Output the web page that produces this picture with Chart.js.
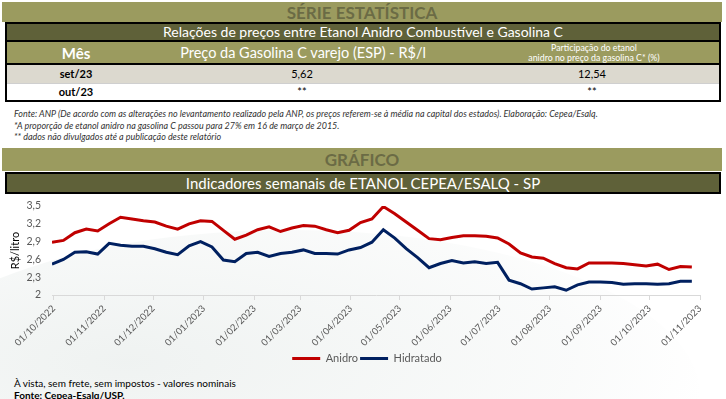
<!DOCTYPE html>
<html>
<head>
<meta charset="utf-8">
<script src="https://cdn.jsdelivr.net/npm/chart.js@4.4.0/dist/chart.umd.min.js"></script>
<style>
  html, body { margin: 0; padding: 0; background: #fff; }
  body { width: 726px; height: 399px; position: relative; overflow: hidden; font-family: Lato, "Liberation Sans", Arial, sans-serif; }
  .abs { position: absolute; }
  .band { background: #9b9b5f; color: #6b6b45; font-weight: bold; font-size: 17px; text-align: center; }
  .darkbar { background: #5f6139; color: #fff; text-align: center; box-sizing: border-box; }
  .c { position: absolute; text-align: center; white-space: nowrap; }
  .note { position: absolute; left: 14px; font-style: italic; font-size: 8.95px; color: #333; white-space: nowrap; }
  #chartWrap { position: absolute; left: 0; top: 194px; width: 726px; height: 180px; }
  #bgDeco { position: absolute; left: -120px; top: 230px; width: 820px; height: 330px; border-radius: 50%;
            background: radial-gradient(ellipse at 30% 40%, rgba(226,232,230,0.55), rgba(240,243,242,0.35) 55%, rgba(255,255,255,0) 72%); }
</style>
</head>
<body>
<div id="bgDeco"></div>

<div class="abs band" style="left:2px;top:2px;width:720px;height:20px;line-height:21px;">SÉRIE ESTATÍSTICA</div>

<div class="abs" style="left:5px;top:22px;width:716px;height:80px;border:2px solid #000;box-sizing:border-box;">
  <div class="abs darkbar" style="left:0;top:0;width:712px;height:16px;line-height:16px;font-size:14px;">Relações de preços entre Etanol Anidro Combustível e Gasolina C</div>
  <div class="abs" style="left:0;top:16px;width:712px;height:2px;background:#000;"></div>
  <div class="abs" style="left:0;top:18px;width:712px;height:21px;background:#9b9b5f;"></div>
  <div class="c" style="left:39px;width:60px;top:19px;line-height:20px;font-size:15px;font-weight:bold;color:#fff;">Mês</div>
  <div class="c" style="left:146px;width:300px;top:19px;line-height:20px;font-size:14.5px;color:#fff;">Preço da Gasolina C varejo (ESP) - R$/l</div>
  <div class="c" style="left:487px;width:200px;top:19px;line-height:10px;font-size:8.8px;color:#fff;">Participação do etanol<br>anidro no preço da gasolina C* (%)</div>
  <div class="abs" style="left:0;top:39px;width:712px;height:2px;background:#000;"></div>
  <div class="abs" style="left:0;top:41px;width:712px;height:18px;background:#dcd9cf;"></div>
  <div class="abs" style="left:0;top:59px;width:712px;height:1px;background:#cfcfcf;"></div>
  <div class="c" style="left:39px;width:60px;top:41px;line-height:18px;font-size:11px;font-weight:bold;color:#000;">set/23</div>
  <div class="c" style="left:245px;width:100px;top:41px;line-height:18px;font-size:11px;color:#000;">5,62</div>
  <div class="c" style="left:535px;width:100px;top:41px;line-height:18px;font-size:11px;color:#000;">12,54</div>
  <div class="c" style="left:39px;width:60px;top:60px;line-height:16px;font-size:11px;font-weight:bold;color:#000;">out/23</div>
  <div class="c" style="left:245px;width:100px;top:60px;line-height:16px;font-size:11px;color:#000;">**</div>
  <div class="c" style="left:535px;width:100px;top:60px;line-height:16px;font-size:11px;color:#000;">**</div>
</div>

<div class="note" style="top:108px;">Fonte: ANP (De acordo com as alterações no levantamento realizado pela ANP, os preços referem-se à média na capital dos estados). Elaboração: Cepea/Esalq.</div>
<div class="note" style="top:120px;">*A proporção de etanol anidro na gasolina C passou para 27% em 16 de março de 2015.</div>
<div class="note" style="top:131px;">** dados não divulgados até a publicação deste relatório</div>

<div class="abs band" style="left:2px;top:148px;width:720px;height:23px;line-height:23px;">GRÁFICO</div>
<div class="abs darkbar" style="left:5px;top:172px;width:716px;height:22px;line-height:18px;font-size:15px;border:2px solid #000;">Indicadores semanais de ETANOL CEPEA/ESALQ - SP</div>

<div id="chartWrap"><canvas id="chart" width="726" height="180"></canvas></div>

<div class="abs" style="left:14px;top:377px;font-size:10px;color:#000;white-space:nowrap;">À vista, sem frete, sem impostos - valores nominais</div>
<div class="abs" style="left:14px;top:389px;font-size:10px;font-weight:bold;color:#000;white-space:nowrap;">Fonte: Cepea-Esalq/USP.</div>

<script>
// ---- data ----
const weekDates = [
  '30/09/2022','07/10/2022','14/10/2022','21/10/2022','28/10/2022',
  '04/11/2022','11/11/2022','18/11/2022','25/11/2022',
  '02/12/2022','09/12/2022','16/12/2022','23/12/2022','30/12/2022',
  '06/01/2023','13/01/2023','20/01/2023','27/01/2023',
  '03/02/2023','10/02/2023','17/02/2023','24/02/2023',
  '03/03/2023','10/03/2023','17/03/2023','24/03/2023','31/03/2023',
  '07/04/2023','14/04/2023','21/04/2023','28/04/2023',
  '05/05/2023','12/05/2023','19/05/2023','26/05/2023',
  '02/06/2023','09/06/2023','16/06/2023','23/06/2023','30/06/2023',
  '07/07/2023','14/07/2023','21/07/2023','28/07/2023',
  '04/08/2023','11/08/2023','18/08/2023','25/08/2023',
  '01/09/2023','08/09/2023','15/09/2023','22/09/2023','29/09/2023',
  '06/10/2023','13/10/2023','20/10/2023','27/10/2023'
];
const anidro = [
  2.89, 2.92, 3.05, 3.11, 3.08,
  3.20, 3.31, 3.28, 3.25,
  3.23, 3.16, 3.11, 3.20, 3.25,
  3.24, 3.09, 2.94, 3.01,
  3.10, 3.15, 3.07, 3.13,
  3.17, 3.16, 3.10, 3.05, 3.09,
  3.22, 3.28, 3.49, 3.37,
  3.23, 3.09, 2.95, 2.93,
  2.97, 3.00, 3.00, 2.99, 2.96,
  2.86, 2.71, 2.64, 2.62,
  2.53, 2.46, 2.44, 2.54,
  2.54, 2.54, 2.53, 2.51, 2.49,
  2.52, 2.43, 2.48, 2.47
];
const hidratado = [
  2.52, 2.60, 2.72, 2.73, 2.69,
  2.87, 2.84, 2.82, 2.82,
  2.78, 2.72, 2.68, 2.83, 2.90,
  2.81, 2.59, 2.56, 2.70,
  2.72, 2.65, 2.70, 2.72,
  2.76, 2.70, 2.70, 2.69, 2.76,
  2.80, 2.89, 3.10, 2.96,
  2.78, 2.63, 2.46, 2.53,
  2.58, 2.54, 2.56, 2.53, 2.55,
  2.25, 2.19, 2.10, 2.12,
  2.14, 2.08, 2.17, 2.22,
  2.22, 2.21, 2.18, 2.19, 2.19,
  2.18, 2.19, 2.23, 2.23
];
const monthTicks = [
  '01/10/2022','01/11/2022','01/12/2022','01/01/2023','01/02/2023','01/03/2023','01/04/2023',
  '01/05/2023','01/06/2023','01/07/2023','01/08/2023','01/09/2023','01/10/2023','01/11/2023'
];
const yTicks = [2, 2.3, 2.6, 2.9, 3.2, 3.5];
const yTickLabels = ['2', '2,3', '2,6', '2,9', '3,2', '3,5'];
const seriesNames = ['Anidro', 'Hidratado'];

// ---- helpers ----
function dayNum(s) {
  const [d, m, y] = s.split('/').map(Number);
  return Date.UTC(y, m - 1, d) / 86400000;
}
const tickDays = monthTicks.map(dayNum);
const labelByDay = {};
tickDays.forEach((v, i) => { labelByDay[v] = monthTicks[i]; });
const toPoints = arr => arr.map((v, i) => ({ x: dayNum(weekDates[i]), y: v }));

const FONT = 'Lato, "Liberation Sans", Arial, sans-serif';

const legendShift = {
  id: 'legendShift',
  afterLayout(chart) {
    if (chart.legend) { chart.legend.left += 17; chart.legend.right += 17; }
  }
};

new Chart(document.getElementById('chart'), {
  type: 'line',
  data: {
    datasets: [
      { label: seriesNames[0], data: toPoints(anidro), borderColor: '#c00000', backgroundColor: '#c00000',
        borderWidth: 3, pointRadius: 0, tension: 0 },
      { label: seriesNames[1], data: toPoints(hidratado), borderColor: '#002060', backgroundColor: '#002060',
        borderWidth: 3, pointRadius: 0, tension: 0 }
    ]
  },
  plugins: [legendShift],
  options: {
    responsive: false,
    animation: false,
    events: [],
    layout: { padding: { left: 0, right: 26, top: 12, bottom: 0 } },
    plugins: {
      tooltip: { enabled: false },
      legend: {
        position: 'bottom',
        labels: {
          boxWidth: 28, boxHeight: 3, padding: 2,
          color: '#595959',
          font: { family: FONT, size: 11 },
          generateLabels(chart) {
            const items = Chart.defaults.plugins.legend.labels.generateLabels(chart);
            items.forEach(it => { it.lineWidth = 0; });
            return items;
          }
        }
      }
    },
    scales: {
      x: {
        type: 'linear',
        min: dayNum(weekDates[0]),
        max: tickDays[tickDays.length - 1],
        afterBuildTicks(axis) { axis.ticks = tickDays.map(v => ({ value: v })); },
        afterFit(axis) { axis.height = 56; },
        ticks: {
          autoSkip: false, minRotation: 45, maxRotation: 45, padding: 3,
          color: '#595959', font: { family: FONT, size: 9.5 },
          callback: v => labelByDay[v] || ''
        },
        grid: { display: true, drawOnChartArea: false, drawTicks: true, tickLength: 5, color: '#d9d9d9' },
        border: { display: true, color: '#d9d9d9', width: 1 }
      },
      y: {
        min: 2, max: 3.5,
        afterBuildTicks(axis) { axis.ticks = yTicks.map(v => ({ value: v })); },
        afterFit(axis) { axis.width = 52; },
        ticks: {
          autoSkip: false,
          padding: 0, color: '#595959', font: { family: FONT, size: 10.5 },
          callback: (v) => { const i = yTicks.indexOf(v); return i >= 0 ? yTickLabels[i] : ''; }
        },
        grid: { display: true, drawOnChartArea: false, drawTicks: true, tickLength: 11, color: 'rgba(0,0,0,0)' },
        border: { display: false },
        title: { display: true, text: 'R$/litro', color: '#000', font: { family: FONT, size: 11 }, padding: { top: 9, bottom: 0 } }
      }
    }
  }
});
</script>
</body>
</html>
